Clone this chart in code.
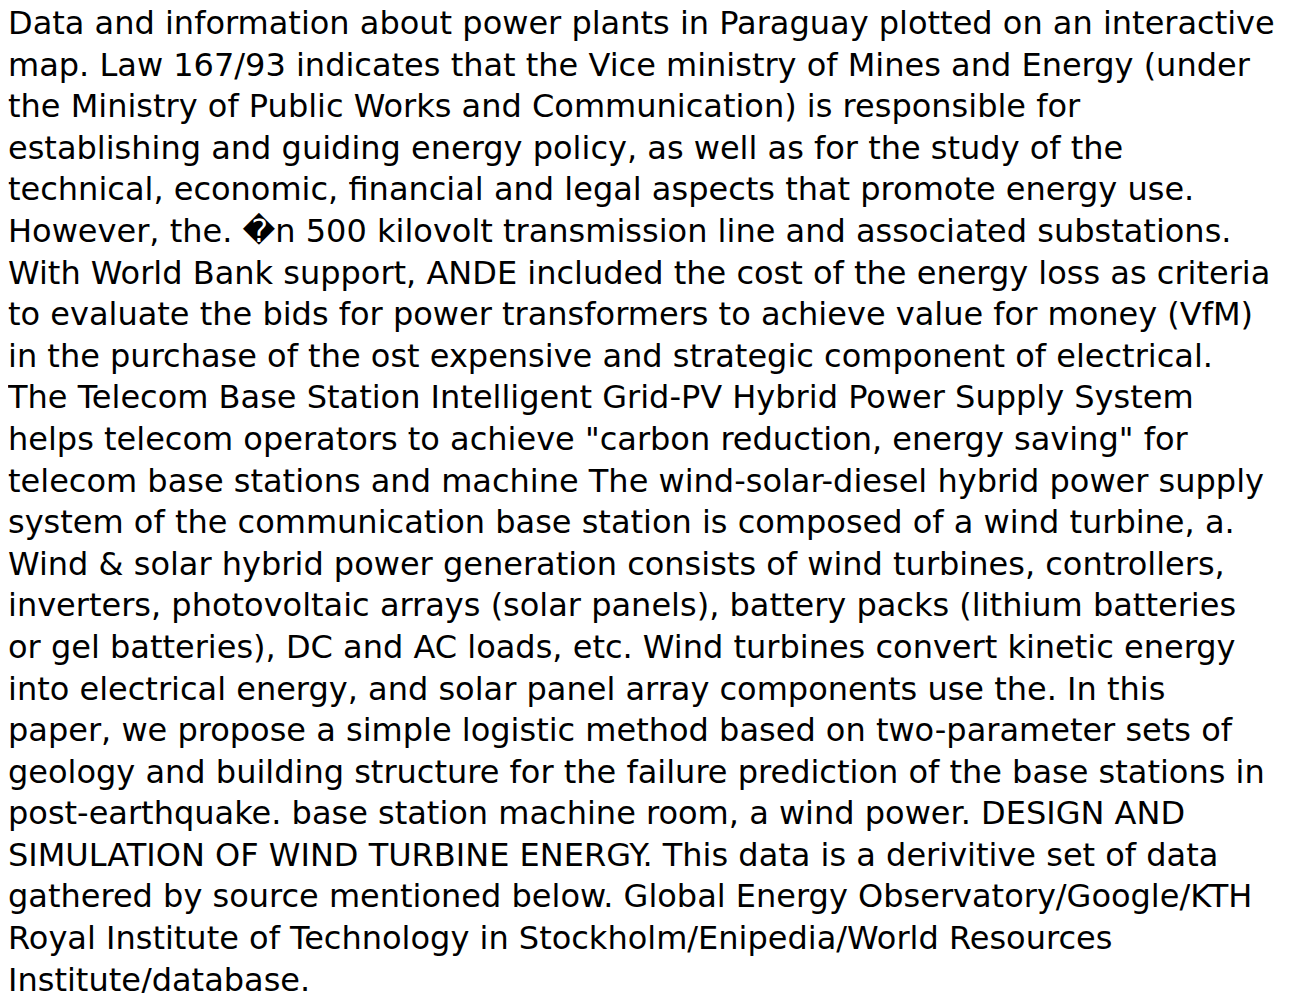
import React from "react";

const lines: string[] = [
  "Data and information about power plants in Paraguay plotted on an interactive",
  "map. Law 167/93 indicates that the Vice ministry of Mines and Energy (under",
  "the Ministry of Public Works and Communication) is responsible for",
  "establishing and guiding energy policy, as well as for the study of the",
  "technical, economic, financial and legal aspects that promote energy use.",
  "However, the. \uFFFDn 500 kilovolt transmission line and associated substations.",
  "With World Bank support, ANDE included the cost of the energy loss as criteria",
  "to evaluate the bids for power transformers to achieve value for money (VfM)",
  "in the purchase of the ost expensive and strategic component of electrical.",
  "The Telecom Base Station Intelligent Grid-PV Hybrid Power Supply System",
  "helps telecom operators to achieve \"carbon reduction, energy saving\" for",
  "telecom base stations and machine The wind-solar-diesel hybrid power supply",
  "system of the communication base station is composed of a wind turbine, a.",
  "Wind & solar hybrid power generation consists of wind turbines, controllers,",
  "inverters, photovoltaic arrays (solar panels), battery packs (lithium batteries",
  "or gel batteries), DC and AC loads, etc. Wind turbines convert kinetic energy",
  "into electrical energy, and solar panel array components use the. In this",
  "paper, we propose a simple logistic method based on two-parameter sets of",
  "geology and building structure for the failure prediction of the base stations in",
  "post-earthquake. base station machine room, a wind power. DESIGN AND",
  "SIMULATION OF WIND TURBINE ENERGY. This data is a derivitive set of data",
  "gathered by source mentioned below. Global Energy Observatory/Google/KTH",
  "Royal Institute of Technology in Stockholm/Enipedia/World Resources",
  "Institute/database.",
];

export default function App() {
  return (
    <div
      style={{
        fontFamily: "'DejaVu Sans'",
        fontSize: "32px",
        lineHeight: "41.6px",
        color: "#000",
        marginTop: "-5px",
        whiteSpace: "nowrap",
      }}
    >
      {lines.map((l, i) => (
        <div key={i}>{l}</div>
      ))}
    </div>
  );
}
